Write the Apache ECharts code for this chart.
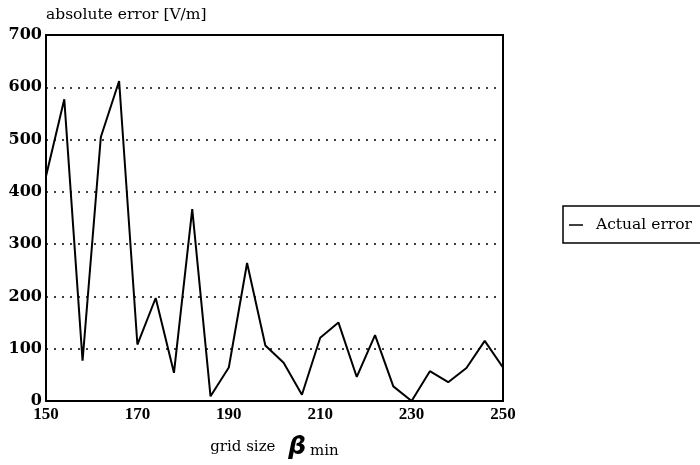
<!DOCTYPE html>
<html>
<head>
<meta charset="utf-8">
<script src="https://cdn.jsdelivr.net/npm/echarts@6/dist/echarts.min.js"></script>
<style>html,body{margin:0;padding:0;background:#fff;}#c{width:700px;height:465px;}</style>
</head>
<body>
<div id="c"></div>
<script>
var gridSizes = [150,154,158,162,166,170,174,178,182,186,190,194,198,202,206,210,214,218,222,226,230,234,238,242,246,250];
var actualError = [430,577,77,505,612,108,197,54,367,9,64,264,106,73,12,121,150,46,126,28,0,57,36,63,115,64];
var seriesName = 'Actual error';
var yAxisTitle = 'absolute error [V/m]';

var chart = echarts.init(document.getElementById('c'));
chart.setOption({
  animation: false,
  backgroundColor: '#fff',
  grid: { left: 46, right: 197, top: 35, bottom: 58, show: true, borderColor: '#000', borderWidth: 2, backgroundColor: 'transparent' },
  legend: {
    left: 563, top: 206,
    orient: 'vertical',
    padding: [11, 40, 10, 6],
    borderColor: '#000', borderWidth: 1.5, borderRadius: 0,
    icon: 'rect', itemWidth: 14, itemHeight: 1.5,
    itemStyle: { color: '#000' },
    textStyle: { fontFamily: 'DejaVu Serif', fontSize: 15.5, color: '#000', padding: [0, 0, 0, 8] },
    data: [seriesName]
  },
  xAxis: {
    type: 'value', min: 150, max: 250, interval: 20,
    name: 'grid size {b|β}{s|min}',
    nameLocation: 'middle', nameGap: 34,
    nameTextStyle: {
      fontFamily: 'DejaVu Serif', fontSize: 15, color: '#000',
      rich: {
        b: { fontFamily: 'DejaVu Sans', fontWeight: 'bold', fontStyle: 'italic', fontSize: 25, color: '#000', padding: [0, 4, 0, 8] },
        s: { fontFamily: 'DejaVu Serif', fontSize: 15, color: '#000', padding: [8, 0, 0, 0] }
      }
    },
    axisLine: { show: true, lineStyle: { color: '#000', width: 2 } },
    axisTick: { show: false },
    splitLine: { show: false },
    axisLabel: { fontFamily: 'Liberation Serif', fontWeight: 'bold', fontSize: 17, color: '#000', margin: 5 }
  },
  yAxis: {
    type: 'value', min: 0, max: 700, interval: 100,
    name: yAxisTitle,
    nameLocation: 'end', nameGap: 12,
    nameTextStyle: { fontFamily: 'DejaVu Serif', fontSize: 15.5, color: '#000', align: 'left' },
    axisLine: { show: true, lineStyle: { color: '#000', width: 2 } },
    axisTick: { show: false },
    splitLine: { show: true, lineStyle: { color: '#000', width: 1.5, type: [2, 6] } },
    axisLabel: { fontFamily: 'DejaVu Serif', fontWeight: 'bold', fontSize: 16, color: '#000', margin: 4 }
  },
  series: [{
    name: seriesName,
    type: 'line',
    data: gridSizes.map(function (g, i) { return [g, actualError[i]]; }),
    showSymbol: false,
    symbol: 'none',
    lineStyle: { color: '#000', width: 2 },
    itemStyle: { color: '#000' }
  }]
});
</script>
</body>
</html>
